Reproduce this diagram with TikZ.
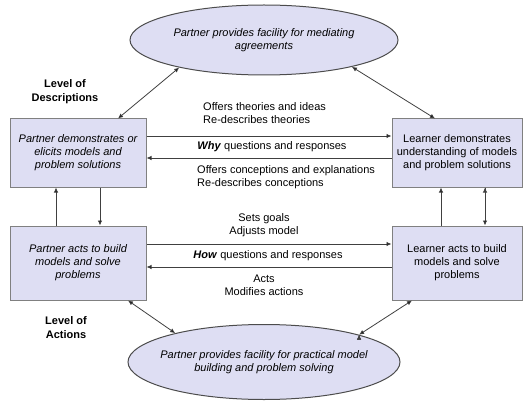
\documentclass[tikz,border=0pt]{standalone}
\usepackage{fontspec}
\setmainfont{Liberation Sans}
\usetikzlibrary{shapes.geometric,arrows.meta}
\definecolor{lavender}{RGB}{222,222,243}
\tikzset{%
    panel/.style={%
        draw=black!50, line width=1pt, fill=lavender,
        minimum width=136pt, minimum height=68pt, inner sep=2pt,
        align=center, font=\fontsize{11}{13}\selectfont
    },
    facility/.style={%
        ellipse, draw=black!70, line width=1pt, fill=lavender,
        inner xsep=-30pt, inner ysep=0pt,
        align=center, font=\fontsize{11}{12.5}\selectfont\itshape
    },
    flow/.style={draw=black!75, line width=0.8pt, -{Latex[length=5pt,width=4.5pt]}},
    twoway/.style={draw=black!75, line width=0.8pt, {Latex[length=5pt,width=4.5pt]}-{Latex[length=5pt,width=4.5pt]}},
    words/.style={font=\fontsize{11}{13}\selectfont, inner sep=0pt},
    level/.style={font=\fontsize{11}{14}\selectfont\bfseries, align=center, inner sep=0pt}
}

\begin{document}
\begin{tikzpicture}[x=1pt, y=-1pt]
\useasboundingbox (0,0) rectangle (527,409);
%\draw [help lines] (0,0) grid (527,409);
\node[facility, minimum width=268pt, minimum height=70pt] (P0) at (264,40)
    {Partner provides facility for mediating\\agreements};
\node[facility, minimum width=272pt, minimum height=75pt] (P5) at (264,362)
    {Partner provides facility for practical model\\building and problem solving};

\node[panel, font=\fontsize{11}{13}\selectfont\itshape] (P1) at (78,153)
    {Partner demonstrates or\\elicits models and\\problem solutions};
\node[panel, minimum width=130pt] (P2) at (457,153)
    {Learner demonstrates\\understanding of models\\and problem solutions};
\node[panel, minimum height=74pt, font=\fontsize{11}{13}\selectfont\itshape] (P3) at (78,263)
    {Partner acts to build\\models and solve\\problems};
\node[panel, minimum width=130pt, minimum height=74pt] (P4) at (457,263)
    {Learner acts to build\\models and solve\\problems};

\node[level] (D) at (65,92) {Level of\\Descriptions};
\node[level] (A) at (66,328) {Level of\\Actions};

\node[words, anchor=west, align=left] (T1) at (203,113) {Offers theories and ideas\\Re-describes theories};
\node[words] (T2) at (272,147) {\textbf{\textit{Why}} questions and responses};
\node[words, anchor=west, align=left] (T3) at (197,177) {Offers conceptions and explanations\\Re-describes conceptions};
\node[words, align=center] (T4) at (264,225) {Sets goals\\Adjusts model};
\node[words] (T5) at (268,256) {\textbf{\textit{How}} questions and responses};
\node[words, align=center] (T6) at (264,285) {Acts\\Modifies actions};

\path[flow]
% partner to learner, descriptions
([yshift=17pt]P1.east) edge ([yshift=17pt]P2.west)
% learner to partner, descriptions
([yshift=-5pt]P2.west) edge ([yshift=-5pt]P1.west -| P1.east)
% partner to learner, actions
([yshift=19pt]P3.east) edge ([yshift=19pt]P4.west)
% learner to partner, actions
([yshift=-4pt]P4.west) edge ([yshift=-4pt]P3.east)
% actions up to descriptions
([xshift=-22pt]P3.north) edge ([xshift=-22pt]P1.south)
([xshift=-16pt]P4.north) edge ([xshift=-16pt]P2.south)
% descriptions down to actions
([xshift=22pt]P1.south) edge ([xshift=22pt]P3.north)
([xshift=28pt]P2.south) edge ([xshift=28pt]P4.north)
;

\path[twoway]
% mediating facility to both describers
([xshift=40pt]P1.north) edge (P0.198)
(P0.343) edge ([xshift=-22pt]P2.north)
% practical facility to both actors
([xshift=50pt]P3.south) edge (P5.162)
(P5.16) edge ([xshift=-45pt]P4.south)
;
\end{tikzpicture}
\end{document}
